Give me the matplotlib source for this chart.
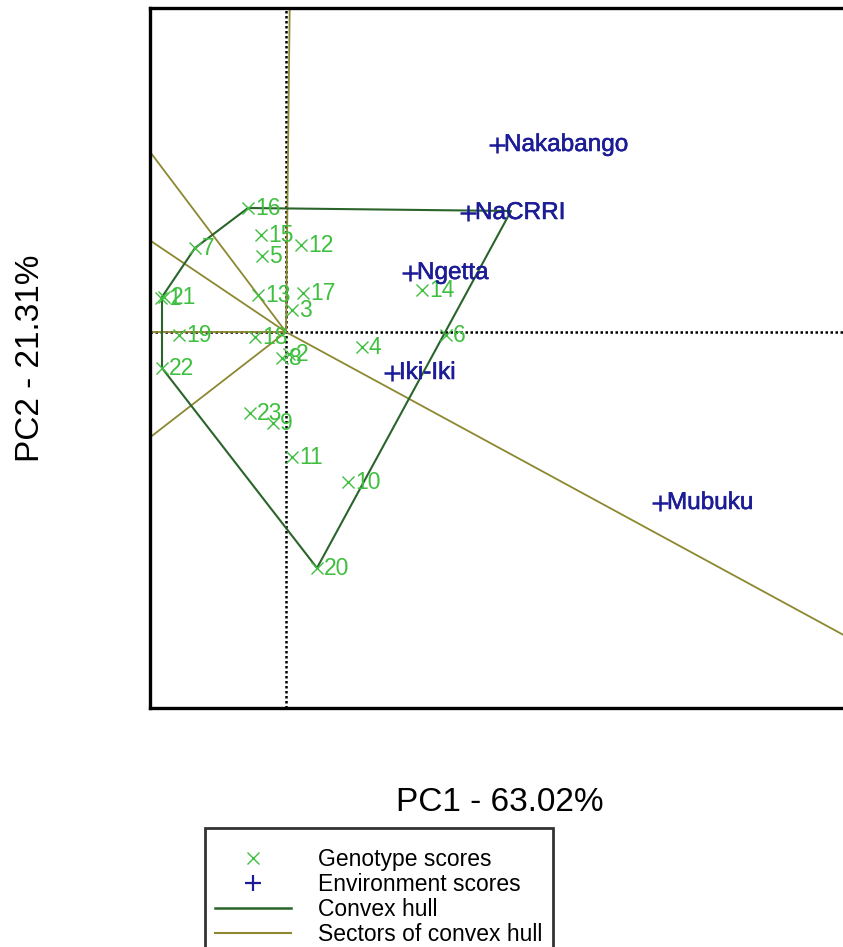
import numpy as np
import matplotlib.pyplot as plt
import matplotlib.patheffects as pe
from matplotlib.lines import Line2D

plt.rcParams['font.family'] = ['Liberation Sans', 'DejaVu Sans']

# genotype scores (PC1, PC2)
geno_names = [str(i) for i in range(1, 24)]
geno_pc1 = [-1.25, 0.03, 0.06, 0.76, -0.24, 1.60, -0.91, -0.04, -0.13, 0.62, 0.06, 0.15,
            -0.28, 1.36, -0.25, -0.38, 0.17, -0.31, -1.07, 0.31, -1.22, -1.24, -0.36]
geno_pc2 = [0.34, -0.22, 0.22, -0.15, 0.76, -0.03, 0.84, -0.26, -0.91, -1.50, -1.25, 0.87,
            0.37, 0.42, 0.97, 1.24, 0.39, -0.05, -0.03, -2.36, 0.35, -0.36, -0.81]

# environment scores
env_names = ['Nakabango', 'NaCRRI', 'Ngetta', 'Iki-Iki', 'Mubuku']
env_pc1 = [2.11, 1.82, 1.24, 1.06, 3.74]
env_pc2 = [1.87, 1.19, 0.59, -0.41, -1.71]

# convex hull vertices in drawing order
hull_pc1 = [-0.38, 2.25, 0.31, -1.24, -1.24, -0.91]
hull_pc2 = [1.24, 1.21, -2.36, -0.36, 0.35, 0.84]

geno_col = '#3fbf3f'
env_col = '#1c1c96'
hull_col = '#2b642b'
sect_col = '#8c8830'

fig = plt.figure(figsize=(8.43, 9.47), dpi=100)
ax = fig.add_axes([150 / 843, 1 - 708 / 947, 700 / 843, 700 / 947])
ax.set_xlim(-1.36, 5.64)
ax.set_ylim(-3.76, 3.24)

# dotted reference axes through origin
ax.axvline(0, color='black', lw=1.8, ls=(0, (1, 1.0)), zorder=1)
ax.axhline(0, color='black', lw=1.8, ls=(0, (1, 1.0)), zorder=1)

# sector rays: from origin, perpendicular to each hull side
hx = np.array(hull_pc1 + hull_pc1[:1])
hy = np.array(hull_pc2 + hull_pc2[:1])
for i in range(len(hull_pc1)):
    p1 = np.array([hx[i], hy[i]])
    p2 = np.array([hx[i + 1], hy[i + 1]])
    d = p2 - p1
    t = -p1.dot(d) / d.dot(d)
    foot = p1 + t * d
    u = foot / np.linalg.norm(foot)
    ax.plot([0, 20 * u[0]], [0, 20 * u[1]], color=sect_col, lw=1.3, zorder=2)

ax.plot(hx, hy, color=hull_col, lw=1.5, zorder=3)

ax.plot(geno_pc1, geno_pc2, 'x', color=geno_col, ms=8, mew=1.0, zorder=4)
for n, x, y in zip(geno_names, geno_pc1, geno_pc2):
    ax.annotate(n, (x, y), xytext=(5, 0), textcoords='offset points',
                va='center', ha='left', color=geno_col, fontsize=16.5, zorder=5)

ax.plot(env_pc1, env_pc2, '+', color=env_col, ms=11, mew=1.8, zorder=4)
for n, x, y in zip(env_names, env_pc1, env_pc2):
    ax.annotate(n, (x, y), xytext=(5, 0), textcoords='offset points',
                va='center', ha='left', color=env_col, fontsize=17.5, zorder=5,
                path_effects=[pe.withStroke(linewidth=0.4, foreground=env_col)])

ax.set_xticks([])
ax.set_yticks([])
for s in ax.spines.values():
    s.set_linewidth(2.4)

ax.set_xlabel('PC1 - 63.02%', fontsize=24, labelpad=57)
ax.set_ylabel('PC2 - 21.31%', fontsize=24, labelpad=75)

handles = [
    Line2D([], [], ls='none', marker='x', color=geno_col, ms=8, mew=1.0),
    Line2D([], [], ls='none', marker='+', color=env_col, ms=11, mew=1.6),
    Line2D([], [], color=hull_col, lw=1.8),
    Line2D([], [], color=sect_col, lw=1.5),
]
labels = ['Genotype scores', 'Environment scores', 'Convex hull', 'Sectors of convex hull']
leg = fig.legend(handles, labels, loc='upper left', bbox_to_anchor=(205 / 843, 1 - 828 / 947),
                 fontsize=16.5, frameon=True, fancybox=False, edgecolor='black',
                 handlelength=3.3, handletextpad=1.2, labelspacing=0.1,
                 borderpad=0.45, borderaxespad=0, title=' ', title_fontsize=6)
leg.get_frame().set_linewidth(2.0)

fig.savefig('out.png', dpi=100)
